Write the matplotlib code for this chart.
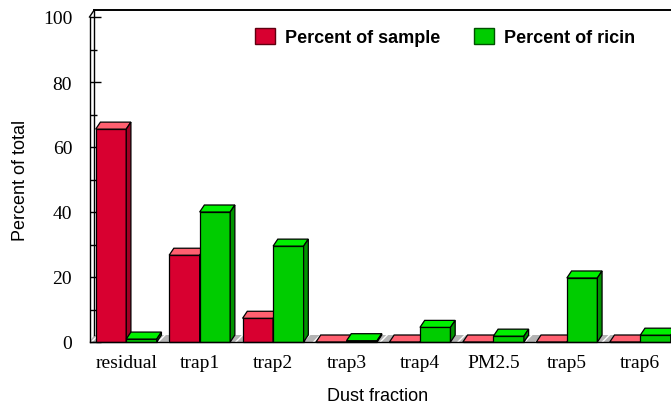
import numpy as np
import matplotlib.pyplot as plt
from matplotlib.patches import Polygon, Rectangle

categories = ['residual', 'trap1', 'trap2', 'trap3', 'trap4', 'PM2.5', 'trap5', 'trap6']
pct_sample = [65.5, 26.7, 7.3, 0.0, 0.0, 0.0, 0.0, 0.0]
pct_ricin = [0.9, 40.0, 29.5, 0.4, 4.5, 1.8, 19.7, 2.1]

# front / top / side shades for the fake 3D bars
red = ('#d80030', '#ff6070', '#a00024')
green = ('#00cc00', '#00f000', '#009400')

fig = plt.figure(figsize=(6.71, 4.06), dpi=100)
ax = fig.add_axes([89.5/671, 63/406, 587.5/671, 325/406])
x0, x1 = -0.5, 7.5
ax.set_xlim(x0, x1)
ax.set_ylim(0, 100)

# depth of the 3D effect in data units
dx = 4.7 / 73.4
dy = 7.0 / 3.25
w = 30.5 / 73.4

for s in ['top', 'right', 'bottom']:
    ax.spines[s].set_visible(False)
ax.spines['left'].set_linewidth(1.0)

# floor strip with hatch
floor = Polygon([(x0, 0), (x1 + 1, 0), (x1 + 1 + dx, dy), (x0 + dx, dy)],
                facecolor='#b4b4b4', edgecolor='white', lw=0, hatch='///',
                zorder=1, clip_on=False)
ax.add_patch(floor)
ax.plot([x0, x1 + 1], [0, 0], color='black', lw=1.0, zorder=50, clip_on=False)

# back wall and top edge
ax.plot([x0 + dx, x0 + dx], [dy, 100 + dy], color='black', lw=1.0, clip_on=False, zorder=3)
ax.plot([x0, x0 + dx], [100, 100 + dy], color='black', lw=1.0, clip_on=False, zorder=3)
ax.plot([x0 + dx, x1 + 1], [100 + dy, 100 + dy], color='black', lw=1.4, clip_on=False, zorder=3)


def bar3d(xc, vals, cols, z0):
    bars = ax.bar(xc, vals, width=w, color=cols[0], edgecolor='black', lw=0.9)
    for i, (b, v) in enumerate(zip(bars, vals)):
        z = z0 + 4 * i
        b.set_zorder(z)
        l = b.get_x()
        r = l + b.get_width()
        top = Polygon([(l, v), (r, v), (r + dx, v + dy), (l + dx, v + dy)],
                      facecolor=cols[1], edgecolor='black', lw=0.9, zorder=z + 0.1)
        side = Polygon([(r, 0), (r, v), (r + dx, v + dy), (r + dx, dy)],
                       facecolor=cols[2], edgecolor='black', lw=0.9, zorder=z + 0.2)
        ax.add_patch(top)
        ax.add_patch(side)
        b.set_clip_on(False)
        top.set_clip_on(False)
        side.set_clip_on(False)


xpos = np.arange(len(categories))
bar3d(xpos - w / 2, pct_sample, red, 10)
bar3d(xpos + w / 2, pct_ricin, green, 12)

ax.set_xticks(xpos)
ax.set_xticklabels(categories, fontfamily='Liberation Serif', fontsize=14)
ax.tick_params(axis='x', length=0, pad=9)
ax.set_yticks(np.arange(0, 101, 20))
ax.set_yticks(np.arange(10, 100, 20), minor=True)
ax.tick_params(axis='y', which='major', direction='in', length=8, width=1.0, pad=12.5,
               labelsize=14)
ax.tick_params(axis='y', which='minor', direction='in', length=5, width=1.0)
for t in ax.get_yticklabels():
    t.set_fontfamily('Liberation Serif')

ax.set_xlabel('Dust fraction', fontfamily='Liberation Sans', fontsize=13)
ax.xaxis.set_label_coords((378 - 89.5) / 587.5, -(397 - 343) / 325)
ax.xaxis.label.set_va('center')
ax.set_ylabel('Percent of total', fontfamily='Liberation Sans', fontsize=13)
ax.yaxis.set_label_coords((21 - 89.5) / 587.5, 0.5)
ax.yaxis.label.set_va('center')

handles = [Rectangle((0, 0), 1, 1, facecolor=red[0], edgecolor='#600010', lw=1),
           Rectangle((0, 0), 1, 1, facecolor=green[0], edgecolor='#005000', lw=1)]
fig.legend(handles, ['Percent of sample', 'Percent of ricin'], ncol=2, frameon=False,
           loc='upper left', bbox_to_anchor=(255 / 671, 1 - 29 / 406),
           prop={'family': 'Liberation Sans', 'weight': 'bold', 'size': 13},
           handlelength=1.1, handleheight=1.0, handletextpad=0.55, columnspacing=1.9,
           borderpad=0, borderaxespad=0)

fig.savefig('out.png', dpi=100)
